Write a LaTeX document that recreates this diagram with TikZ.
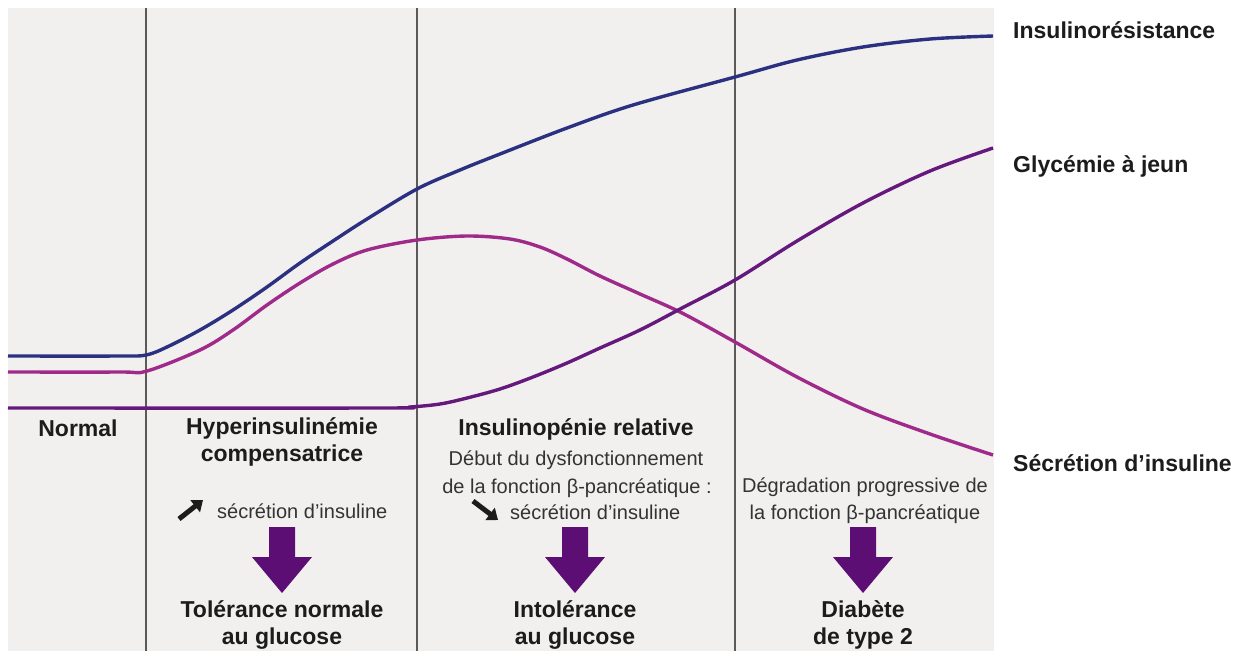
\documentclass[tikz,border=0pt]{standalone}
\usepackage{fontspec}
\setmainfont{Liberation Sans}
\usetikzlibrary{arrows.meta}
\definecolor{panel}{HTML}{F1F0EF}
\definecolor{sepline}{HTML}{5A5A5A}
\definecolor{cblue}{HTML}{2B3180}
\definecolor{cpink}{HTML}{A02A8A}
\definecolor{cpurple}{HTML}{65197C}
\definecolor{bigarr}{HTML}{5C0E74}
\definecolor{ink}{HTML}{1C1C1C}
\tikzset{
  lab/.style={font=\fontsize{23}{28}\selectfont\bfseries, text=ink, inner sep=0pt, anchor=base},
  txt/.style={font=\fontsize{20}{28}\selectfont, text=ink!90, inner sep=0pt, anchor=base},
  curve/.style={line width=3.4pt, line cap=butt, line join=round},
  sep/.style={draw=sepline, line width=1.1pt},
  bigarrow/.style={fill=bigarr},
  smallarrow/.style={draw=ink, line width=5pt, -{Triangle[length=10pt,width=15pt]}}
}
\begin{document}
\begin{tikzpicture}[x=1pt,y=-1pt]
\useasboundingbox (0,0) rectangle (1244,651);
\fill[white] (0,0) rectangle (1244,651);
\fill[panel] (8,8) rectangle (994,651);
% separators
\foreach \xx in {146,417,735} \draw[sep] (\xx,8) -- (\xx,651);
% curves
\draw[curve, cblue] plot[smooth, tension=0.55] coordinates {(8,356) (120,356) (146,355) (167,347) (200,330) (233,310) (267,287) (300,263) (333,241) (367,219) (417,189) (460,170) (500,154) (567,128) (633,105) (735,77) (797,60) (863,47) (930,39) (993,36)};
\draw[curve, cpink] plot[smooth, tension=0.55] coordinates {(8,372) (120,372) (147,371) (200,350) (233,330) (267,305) (300,283) (333,264) (367,250) (417,240) (467,236) (510,239) (540,247) (567,259) (600,276) (640,294) (682,313) (735,342) (797,377) (863,409) (930,434) (993,455)};
\draw[curve, cpurple] plot[smooth, tension=0.55] coordinates {(8,408) (380,408) (410,407) (440,404) (467,398) (500,389) (533,377) (567,363) (600,348) (640,330) (682,308) (735,280) (797,241) (863,203) (930,171) (993,148)};
% right labels
\node[lab, anchor=base west] (lIR) at (1013,38) {Insulinorésistance};
\node[lab, anchor=base west] (lGJ) at (1013,172) {Glycémie à jeun};
\node[lab, anchor=base west] (lSI) at (1013,471) {Sécrétion d’insuline};
% column 1
\node[lab] (normal) at (78,436) {Normal};
% column 2
\node[lab] (hyp1) at (282,434) {Hyperinsulinémie};
\node[lab] (hyp2) at (282,461) {compensatrice};
\node[txt, anchor=base west] (sec1) at (217,518) {sécrétion d’insuline};
\coordinate (sa1s) at (179,519);
\coordinate (sa1e) at (203,500);
\draw[smallarrow] (sa1s) -- (sa1e);
\coordinate (ba1) at (282,527);
\fill[bigarrow] (ba1) ++(-13,0) -- ++(26,0) -- ++(0,30) -- ++(17,0) -- ++(-30,36) -- ++(-30,-36) -- ++(17,0) -- cycle;
\node[lab] (tol1) at (282,617) {Tolérance normale};
\node[lab] (tol2) at (282,644) {au glucose};
% column 3
\node[lab] (ip1) at (576,435) {Insulinopénie relative};
\node[txt] (ip2) at (576,465) {Début du dysfonctionnement};
\node[txt] (ip3) at (577,493) {de la fonction β-pancréatique :};
\node[txt, anchor=base west] (sec2) at (510,519) {sécrétion d’insuline};
\coordinate (sa2s) at (473,501);
\coordinate (sa2e) at (498,520);
\draw[smallarrow] (sa2s) -- (sa2e);
\coordinate (ba2) at (575,527);
\fill[bigarrow] (ba2) ++(-13,0) -- ++(26,0) -- ++(0,30) -- ++(17,0) -- ++(-30,36) -- ++(-30,-36) -- ++(17,0) -- cycle;
\node[lab] (int1) at (575,617) {Intolérance};
\node[lab] (int2) at (575,644) {au glucose};
% column 4
\node[txt] (dg1) at (865,492) {Dégradation progressive de};
\node[txt] (dg2) at (865,519) {la fonction β-pancréatique};
\coordinate (ba3) at (863,527);
\fill[bigarrow] (ba3) ++(-13,0) -- ++(26,0) -- ++(0,30) -- ++(17,0) -- ++(-30,36) -- ++(-30,-36) -- ++(17,0) -- cycle;
\node[lab] (db1) at (863,617) {Diabète};
\node[lab] (db2) at (863,644) {de type 2};
\end{tikzpicture}
\end{document}
